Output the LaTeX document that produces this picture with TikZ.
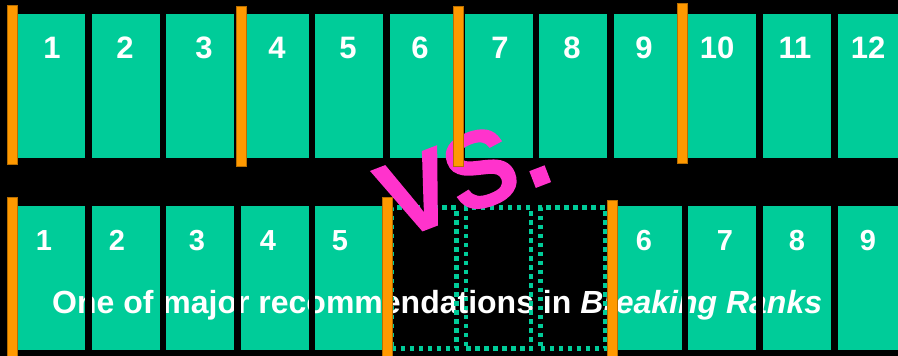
\documentclass[tikz,border=0pt]{standalone}
\usepackage{fontspec}
\setmainfont{Liberation Sans}
\newfontfamily\vsfont{Liberation Sans}[FakeBold=2.5]
\definecolor{seatc}{HTML}{00CC99}
\definecolor{barc}{HTML}{FF9900}
\definecolor{bard}{HTML}{B86E00}
\definecolor{vsc}{HTML}{FF33CC}
\begin{document}
\begin{tikzpicture}[x=1pt,y=-1pt,
  seat/.style={fill=seatc,draw=none,inner sep=0pt,outer sep=0pt,minimum width=68pt,minimum height=144pt,anchor=north west},
  slot/.style={draw=seatc,line width=4.5pt,dash pattern=on 4.5pt off 4.5pt,inner sep=0pt,outer sep=0pt,minimum width=65pt,minimum height=141pt,anchor=north west},
  divider/.style={fill=barc,draw=bard,line width=0.8pt,inner sep=0pt,outer sep=0pt,minimum width=10pt,anchor=north west},
  numtop/.style={text=white,font=\fontsize{31}{31}\selectfont\bfseries,anchor=base,inner sep=0pt},
  numbot/.style={text=white,font=\fontsize{29}{29}\selectfont\bfseries,anchor=base,inner sep=0pt}]
\useasboundingbox (0,0) rectangle (898,356);
\fill[black] (0,0) rectangle (898,356);
% top row
\foreach \i in {1,...,12}{
  \node[seat] (t\i) at ({17+(\i-1)*74.6},14) {};
}
\foreach \i/\x in {1/52,2/125,3/204,4/277,5/348,6/420,7/500,8/572,9/644,10/717,11/795,12/868}{
  \node[numtop] (tn\i) at (\x,58) {\i};
}
% bottom row
\foreach \i/\p in {1/1,2/2,3/3,4/4,5/5,6/9,7/10,8/11,9/12}{
  \node[seat] (s\i) at ({17+(\p-1)*74.6},206) {};
}
\foreach \i/\x in {1/44,2/117,3/197,4/268,5/340,6/644,7/725,8/797,9/868}{
  \node[numbot] (sn\i) at (\x,250) {\i};
}
\node[anchor=base west,text=white,font=\fontsize{32}{32}\selectfont\bfseries,inner sep=0pt] (rec) at (52,313) {One of major recommendations in \textit{Breaking Ranks}};
% black gaps between the bottom seats lie over the text
\foreach \a/\b in {1/2,2/3,3/4,4/5,6/7,7/8,8/9}{
  \fill[black] (s\a.north east) rectangle (s\b.south west);
}
% empty slots
\foreach \p in {6,7,8}{
  \node[slot] (e\p) at ({17+(\p-1)*74.6+1.5},207.5) {};
}
% vs.
\node[anchor=base west,rotate=21,text=vsc,font=\vsfont\fontsize{136}{136}\selectfont,inner sep=0pt] (vs) at (398,239) {vs.};
% dividers
\node[divider,minimum height=159pt] (d1) at (7,5) {};
\node[divider,minimum height=160pt] (d2) at (236,6) {};
\node[divider,minimum height=160pt] (d3) at (453,6) {};
\node[divider,minimum height=160pt] (d4) at (677.5,3) {};
\node[divider,minimum height=165pt] (d5) at (7,197) {};
\node[divider,minimum height=165pt] (d6) at (382,197) {};
\node[divider,minimum height=165pt] (d7) at (607,200) {};
\end{tikzpicture}
\end{document}
